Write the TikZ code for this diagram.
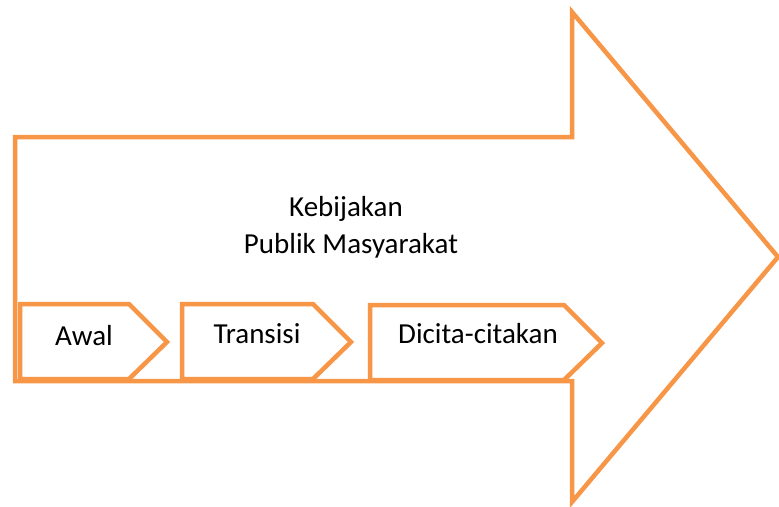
\documentclass[tikz,border=0pt]{standalone}
\usepackage{fontspec}
\setmainfont{Carlito}
\definecolor{accent}{HTML}{F79646}
\tikzset{
  outl/.style={draw=accent, line width=4.5pt, line join=miter, fill=white},
  lbl/.style={anchor=base, inner sep=0pt, font=\fontsize{29}{36}\selectfont, text=black},
}
\begin{document}
\begin{tikzpicture}[x=1pt, y=-1pt]
\useasboundingbox (0,0) rectangle (779,506);
% big arrow
\draw[outl] (15,137) coordinate (b1) -- (572,137) -- (572,12) -- (778,257) coordinate (tip)
  -- (572,502) -- (572,381) -- (15,381) -- cycle;
% chevrons
\draw[outl] (20,304) -- (129,304) -- (167,342) -- (129,379) -- (20,379) -- cycle;
\draw[outl] (182,304) -- (313,304) -- (351,342) -- (313,379) -- (182,379) -- cycle;
\draw[outl] (370,305) -- (564,305) -- (602,343) -- (564,380) -- (370,380) -- cycle;
% texts
\node[lbl] (t1) at (346,216) {Kebijakan};
\node[lbl] (t2) at (351,253) {Publik Masyarakat};
\node[lbl] (a) at (84,345) {Awal};
\node[lbl] (b) at (257,343) {Transisi};
\node[lbl] (c) at (478,343) {Dicita-citakan};
\end{tikzpicture}
\end{document}
